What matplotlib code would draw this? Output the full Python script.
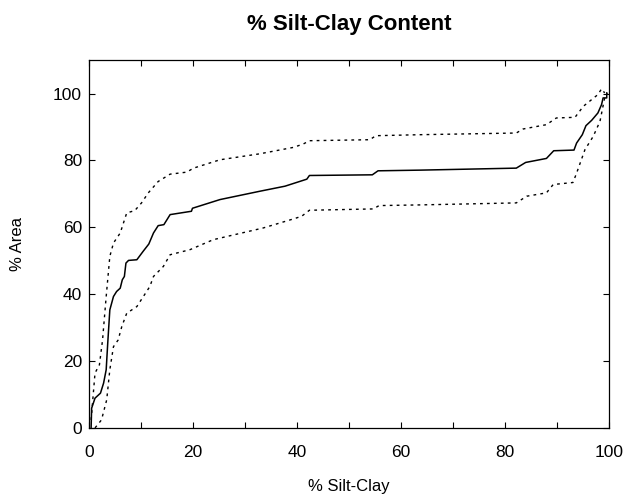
import numpy as np
import matplotlib
matplotlib.use("Agg")
import matplotlib.pyplot as plt
from matplotlib.ticker import MultipleLocator

plt.rcParams['font.family'] = ['Liberation Sans', 'DejaVu Sans']

# cumulative curve (solid) : % silt-clay vs % area
mid_x = [0.4, 0.5, 1.15, 2.2, 2.8, 3.3, 3.6, 4.0, 4.7, 5.3, 6.0, 6.4, 6.8, 7.1, 7.6,
         9.2, 10.4, 11.5, 12.4, 13.3, 14.4, 15.6, 19.7, 19.9, 25.2, 32.9, 37.7,
         41.9, 42.4, 54.5, 55.6, 63.7, 82.2, 84.0, 88.0, 89.4, 93.3, 93.8, 94.9,
         95.6, 96.7, 97.9, 98.6, 98.9, 99.6, 99.6]
mid_y = [0.0, 5.9, 8.9, 10.4, 13.4, 17.4, 25.4, 35.3, 39.3, 40.8, 41.8, 44.3, 45.3,
         49.3, 50.1, 50.3, 52.8, 55.0, 58.3, 60.5, 60.8, 63.8, 64.8, 65.7, 68.3,
         70.8, 72.3, 74.4, 75.5, 75.7, 76.9, 77.1, 77.7, 79.4, 80.6, 82.9, 83.1,
         85.2, 87.7, 90.4, 92.0, 94.2, 96.7, 98.7, 98.7, 100.2]

# upper bound (dotted)
up_x = [0.4, 1.15, 2.0, 2.6, 3.3, 4.0, 4.7, 6.0, 7.25, 8.8, 10.1, 11.4, 13.3, 15.6,
        18.8, 20.1, 25.2, 32.9, 39.3, 41.2, 42.4, 54.0, 55.2, 63.7, 82.2, 83.5,
        88.0, 89.9, 93.5, 95.1, 97.9, 98.6, 99.2]
up_y = [2.4, 16.4, 18.9, 26.3, 39.3, 51.3, 55.3, 58.3, 64.3, 65.0, 67.3, 70.3, 73.7,
        75.9, 76.5, 77.7, 80.2, 82.0, 83.9, 84.9, 85.9, 86.2, 87.4, 87.7, 88.2,
        89.4, 90.7, 92.7, 92.9, 96.2, 99.7, 101.4, 100.2]

# lower bound (dotted)
lo_x = [1.15, 2.4, 3.4, 4.0, 4.7, 5.6, 6.3, 7.25, 9.2, 11.7, 12.4, 14.3, 15.6, 19.4,
        23.9, 33.5, 39.3, 40.9, 42.4, 54.7, 55.8, 63.7, 82.2, 84.2, 88.0, 89.3,
        93.1, 93.8, 95.4, 97.0, 98.3, 99.2, 99.8]
lo_y = [0.0, 2.4, 8.4, 17.4, 24.3, 26.3, 30.3, 34.3, 36.3, 42.3, 45.3, 48.3, 51.8,
        53.3, 56.3, 59.8, 62.5, 63.3, 65.1, 65.5, 66.5, 66.7, 67.3, 69.3, 70.3,
        72.8, 73.4, 76.2, 83.2, 87.2, 91.7, 98.7, 100.0]

fig = plt.figure(figsize=(6.27, 4.97), dpi=100)
ax = fig.add_axes([0.142, 0.139, 0.829, 0.740])

ax.plot(mid_x, mid_y, color='black', lw=1.1)
ax.plot(up_x, up_y, color='black', lw=1.0, linestyle=(0, (2, 3)))
ax.plot(lo_x, lo_y, color='black', lw=1.0, linestyle=(0, (2, 3)))

ax.set_xlim(0, 100)
ax.set_ylim(0, 110)
ax.xaxis.set_major_locator(MultipleLocator(20))
ax.xaxis.set_minor_locator(MultipleLocator(10))
ax.yaxis.set_major_locator(MultipleLocator(20))
ax.tick_params(which='both', direction='in', top=True, right=True, length=4, width=0.8,
               labelsize=12.5)
ax.tick_params(axis='x', pad=12)
ax.tick_params(axis='y', pad=5)
for s in ax.spines.values():
    s.set_linewidth(0.9)

ax.set_xlabel('% Silt-Clay', fontsize=12, labelpad=14)
ax.set_ylabel('% Area', fontsize=12, labelpad=20)
ax.set_title('% Silt-Clay Content', fontsize=16, fontweight='bold', pad=22)

fig.savefig('out.png', dpi=100)
